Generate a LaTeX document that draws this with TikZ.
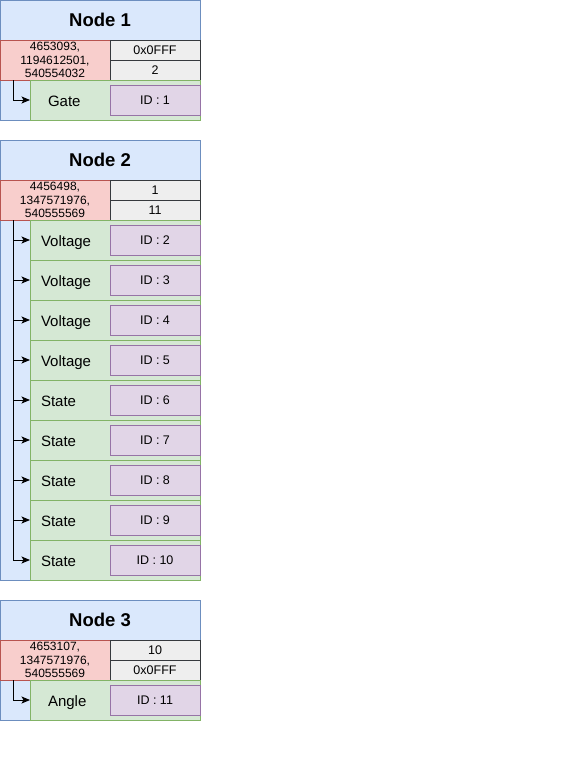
\documentclass[tikz,border=0pt]{standalone}
\usepackage{fontspec}
\setmainfont{Liberation Sans}
\usetikzlibrary{arrows.meta,calc}

\definecolor{blueFill}{HTML}{DAE8FC}
\definecolor{blueLine}{HTML}{6C8EBF}
\definecolor{redFill}{HTML}{F8CECC}
\definecolor{redLine}{HTML}{B85450}
\definecolor{grayFill}{HTML}{EEEEEE}
\definecolor{grayLine}{HTML}{36393D}
\definecolor{greenFill}{HTML}{D5E8D4}
\definecolor{greenLine}{HTML}{82B366}
\definecolor{purpleFill}{HTML}{E1D5E7}
\definecolor{purpleLine}{HTML}{9673A6}

\begin{document}
\begin{tikzpicture}[
			x=1pt, y=-1pt,
			>={Stealth[length=8.5pt,width=7pt,inset=2pt]},
			box/.style={draw, line width=0.9pt, anchor=north west, inner sep=0pt, outer sep=0pt},
			container/.style={box, fill=blueFill, draw=blueLine, minimum width=200pt, minimum height=#1},
			title/.style={font=\bfseries\fontsize{18.5}{20}\selectfont},
			ids/.style={box, fill=redFill, draw=redLine, minimum width=110pt, minimum height=40pt, align=center, font=\fontsize{12}{13.3}\selectfont},
			cell/.style={box, fill=grayFill, draw=grayLine, minimum width=90pt, minimum height=20pt, font=\fontsize{12.5}{14}\selectfont},
			signal/.style={box, fill=greenFill, draw=greenLine, minimum width=170pt, minimum height=40pt, inner xsep=11pt, text width=148pt, text height=13pt, text depth=1pt, align=left, font=\fontsize{15}{17}\selectfont},
			tag/.style={box, fill=purpleFill, draw=purpleLine, minimum width=90pt, minimum height=30pt, font=\fontsize{12.5}{14}\selectfont},
			link/.style={->, line width=0.9pt}
		]
			\useasboundingbox (0,0) rectangle (561,771);
			
			% Node 1
			\node[container=120pt] (n1) at (0,0) {};
			\node[title] (n1t) at (100,20) {Node 1};
			\node[ids] (n1ids) at (0,40) {4653093,\\1194612501,\\540554032};
			\node[cell] (n1a) at (110,40) {0x0FFF};
			\node[cell] (n1b) at (110,60) {2};
			\node[signal, inner xsep=18pt, text width=134pt] (n1s1) at (30,80) {Gate};
			\node[tag] (n1id1) at (110,85) {ID : 1};
			\draw[link] ([xshift=13pt]n1ids.south west) |- (n1s1.west);
			
			% Node 2
			\node[container=440pt] (n2) at (0,140) {};
			\node[title] (n2t) at (100,160) {Node 2};
			\node[ids] (n2ids) at (0,180) {4456498,\\1347571976,\\540555569};
			\node[cell] (n2a) at (110,180) {1};
			\node[cell] (n2b) at (110,200) {11};
			\foreach \name [count=\i] in {Voltage,Voltage,Voltage,Voltage,State,State,State,State,State} {
				\pgfmathsetmacro\rowy{180+40*\i}
				\pgfmathtruncatemacro\idnum{\i+1}
				\node[signal] (n2s\i) at (30,\rowy) {\name};
				\node[tag] (n2id\i) at (110,\rowy+5) {ID : \idnum};
				\draw[link] ([xshift=13pt]n2ids.south west) |- (n2s\i.west);
			}
			
			% Node 3
			\node[container=120pt] (n3) at (0,600) {};
			\node[title] (n3t) at (100,620) {Node 3};
			\node[ids] (n3ids) at (0,640) {4653107,\\1347571976,\\540555569};
			\node[cell] (n3a) at (110,640) {10};
			\node[cell] (n3b) at (110,660) {0x0FFF};
			\node[signal, inner xsep=18pt, text width=134pt] (n3s1) at (30,680) {Angle};
			\node[tag] (n3id1) at (110,685) {ID : 11};
			\draw[link] ([xshift=13pt]n3ids.south west) |- (n3s1.west);
		\end{tikzpicture}
\end{document}
